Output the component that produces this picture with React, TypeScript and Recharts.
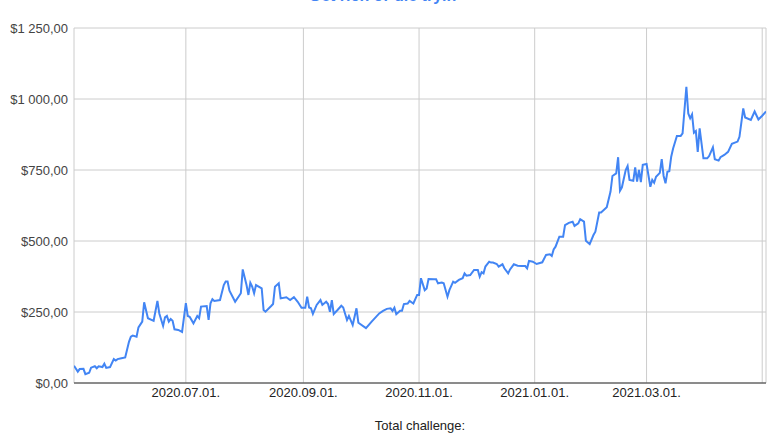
import { LineChart, Line, XAxis, YAxis, CartesianGrid } from "recharts";

const dates = [
  "2020-05-03", "2020-05-05", "2020-05-06", "2020-05-08", "2020-05-09", "2020-05-11", "2020-05-12", "2020-05-14",
  "2020-05-15", "2020-05-16", "2020-05-18", "2020-05-19", "2020-05-20", "2020-05-22", "2020-05-24", "2020-05-25",
  "2020-05-26", "2020-05-28", "2020-05-30", "2020-06-01", "2020-06-02", "2020-06-03", "2020-06-05", "2020-06-06",
  "2020-06-08", "2020-06-09", "2020-06-11", "2020-06-14", "2020-06-16", "2020-06-17", "2020-06-19", "2020-06-20",
  "2020-06-21", "2020-06-22", "2020-06-23", "2020-06-24", "2020-06-25", "2020-06-27", "2020-06-29", "2020-07-01",
  "2020-07-02", "2020-07-03", "2020-07-05", "2020-07-07", "2020-07-08", "2020-07-09", "2020-07-12", "2020-07-13",
  "2020-07-14", "2020-07-15", "2020-07-16", "2020-07-19", "2020-07-21", "2020-07-22", "2020-07-23", "2020-07-24",
  "2020-07-27", "2020-07-30", "2020-07-31", "2020-08-02", "2020-08-03", "2020-08-04", "2020-08-05", "2020-08-06",
  "2020-08-07", "2020-08-10", "2020-08-11", "2020-08-12", "2020-08-15", "2020-08-16", "2020-08-17", "2020-08-19",
  "2020-08-20", "2020-08-23", "2020-08-25", "2020-08-27", "2020-08-29", "2020-08-31", "2020-09-02", "2020-09-03",
  "2020-09-04", "2020-09-05", "2020-09-06", "2020-09-08", "2020-09-10", "2020-09-11", "2020-09-13", "2020-09-14",
  "2020-09-15", "2020-09-16", "2020-09-17", "2020-09-19", "2020-09-21", "2020-09-22", "2020-09-24", "2020-09-25",
  "2020-09-27", "2020-09-29", "2020-09-30", "2020-10-04", "2020-10-07", "2020-10-11", "2020-10-13", "2020-10-15",
  "2020-10-17", "2020-10-18", "2020-10-19", "2020-10-20", "2020-10-22", "2020-10-23", "2020-10-24", "2020-10-26",
  "2020-10-27", "2020-10-29", "2020-10-31", "2020-11-01", "2020-11-02", "2020-11-04", "2020-11-05", "2020-11-06",
  "2020-11-09", "2020-11-10", "2020-11-11", "2020-11-13", "2020-11-14", "2020-11-16", "2020-11-17", "2020-11-19",
  "2020-11-20", "2020-11-22", "2020-11-24", "2020-11-25", "2020-11-26", "2020-11-28", "2020-11-30", "2020-12-02",
  "2020-12-03", "2020-12-04", "2020-12-05", "2020-12-06", "2020-12-08", "2020-12-09", "2020-12-10", "2020-12-12",
  "2020-12-13", "2020-12-15", "2020-12-16", "2020-12-18", "2020-12-19", "2020-12-21", "2020-12-23", "2020-12-25",
  "2020-12-27", "2020-12-28", "2020-12-29", "2020-12-31", "2021-01-02", "2021-01-05", "2021-01-07", "2021-01-09",
  "2021-01-10", "2021-01-11", "2021-01-12", "2021-01-14", "2021-01-16", "2021-01-17", "2021-01-19", "2021-01-21",
  "2021-01-22", "2021-01-24", "2021-01-25", "2021-01-27", "2021-01-28", "2021-01-30", "2021-02-01", "2021-02-02",
  "2021-02-04", "2021-02-05", "2021-02-08", "2021-02-10", "2021-02-11", "2021-02-13", "2021-02-14", "2021-02-15",
  "2021-02-16", "2021-02-18", "2021-02-19", "2021-02-20", "2021-02-22", "2021-02-23", "2021-02-24", "2021-02-25",
  "2021-02-26", "2021-02-27", "2021-03-01", "2021-03-03", "2021-03-04", "2021-03-05", "2021-03-06", "2021-03-08",
  "2021-03-09", "2021-03-10", "2021-03-11", "2021-03-12", "2021-03-13", "2021-03-14", "2021-03-15", "2021-03-17",
  "2021-03-19", "2021-03-20", "2021-03-22", "2021-03-23", "2021-03-24", "2021-03-25", "2021-03-26", "2021-03-27",
  "2021-03-28", "2021-03-29", "2021-03-31", "2021-04-02", "2021-04-03", "2021-04-05", "2021-04-06", "2021-04-08",
  "2021-04-09", "2021-04-11", "2021-04-13", "2021-04-15", "2021-04-18", "2021-04-19", "2021-04-21", "2021-04-22",
  "2021-04-25", "2021-04-27", "2021-04-29", "2021-05-01", "2021-05-03",
];

const totals = [
  61, 40, 49, 50, 31, 36, 54, 59,
  52, 59, 56, 68, 53, 56, 84, 79,
  84, 87, 90, 145, 163, 167, 163, 196,
  216, 284, 228, 219, 289, 245, 201, 231,
  236, 216, 225, 219, 189, 187, 180, 281,
  236, 233, 210, 236, 228, 269, 271, 222,
  281, 295, 289, 292, 345, 357, 357, 325,
  286, 316, 400, 345, 310, 353, 339, 316,
  345, 333, 257, 251, 271, 278, 339, 351,
  298, 302, 292, 302, 286, 265, 265, 304,
  266, 263, 243, 275, 292, 275, 286, 278,
  251, 292, 243, 257, 272, 266, 222, 236,
  204, 263, 212, 193, 216, 245, 254, 261,
  263, 254, 265, 242, 254, 254, 278, 280,
  289, 280, 310, 310, 369, 327, 333, 366,
  365, 365, 351, 354, 351, 304, 327, 357,
  353, 363, 369, 386, 378, 380, 398, 398,
  374, 390, 386, 410, 427, 424, 424, 419,
  410, 418, 404, 386, 400, 418, 413, 412,
  412, 404, 430, 427, 419, 425, 451, 453,
  447, 470, 480, 515, 515, 556, 564, 568,
  553, 562, 577, 568, 501, 489, 521, 533,
  600, 600, 619, 674, 729, 738, 795, 677,
  689, 750, 764, 715, 712, 759, 709, 750,
  707, 768, 771, 691, 715, 705, 726, 740,
  788, 729, 703, 744, 746, 797, 826, 870,
  870, 879, 1043, 949, 932, 946, 881, 887,
  814, 897, 791, 791, 799, 830, 788, 783,
  795, 803, 814, 842, 850, 867, 967, 935,
  926, 956, 928, 941, 956,
];

const xTicks = ["2020-07-01", "2020-09-01", "2020-11-01", "2021-01-01", "2021-03-01", "2021-05-01"];
const labeledTicks = ["2020-07-01", "2020-09-01", "2020-11-01", "2021-01-01", "2021-03-01"];
const yTicks = [0, 250, 500, 750, 1000, 1250];

const toTime = (s: string) => {
  const [y, m, d] = s.split("-").map(Number);
  return Date.UTC(y, m - 1, d);
};

const data = dates.map((d, i) => ({ t: toTime(d), total: totals[i] }));

const formatDate = (v: number) => {
  const d = new Date(v);
  const iso = d.toISOString().slice(0, 10);
  if (!labeledTicks.includes(iso)) return "";
  return iso.replace(/-/g, ".") + ".";
};

const formatMoney = (v: number) => {
  const [int, dec] = v.toFixed(2).split(".");
  const grouped = int.replace(/\B(?=(\d{3})+(?!\d))/g, " ");
  return `$${grouped},${dec}`;
};

const font = "Arial, 'Liberation Sans', sans-serif";

export default function App() {
  return (
    <div style={{ position: "absolute", left: 0, top: 0, width: 773, height: 445, background: "#fff", fontFamily: font }}>
      <div
        style={{
          position: "absolute",
          left: 0,
          width: 773,
          top: -14,
          textAlign: "center",
          paddingLeft: 0,
          color: "#4285f4",
          fontSize: 16,
          fontWeight: "bold",
          lineHeight: "20px",
          transform: "translateX(-4px)",
        }}
      >
        Get rich or die tryin
      </div>
      <LineChart width={773} height={445} data={data} margin={{ top: 28, right: 7, bottom: 0, left: 0 }}>
        <CartesianGrid stroke="#cccccc" strokeWidth={1} />
        <XAxis
          dataKey="t"
          type="number"
          scale="time"
          domain={[toTime("2020-05-03"), toTime("2021-05-03")]}
          ticks={xTicks.map(toTime)}
          tickFormatter={formatDate}
          height={62}
          axisLine={{ stroke: "#333333", strokeWidth: 1 }}
          tickLine={false}
          tickSize={5}
          tickMargin={0}
          tick={{ fontSize: 13, fill: "#222222", fontFamily: font }}
          interval={0}
          allowDataOverflow
          label={{ value: "Total challenge:", position: "insideBottom", offset: 15, fontSize: 13, fill: "#222222", fontFamily: font }}
        />
        <YAxis
          type="number"
          domain={[0, 1250]}
          ticks={yTicks}
          tickFormatter={formatMoney}
          width={74}
          axisLine={false}
          tickLine={false}
          tickSize={6}
          tickMargin={0}
          interval={0}
          tick={{ fontSize: 13, fill: "#444444", fontFamily: font }}
        />
        <Line
          type="linear"
          dataKey="total"
          stroke="#4285f4"
          strokeWidth={2}
          dot={false}
          activeDot={false}
          isAnimationActive={false}
        />
      </LineChart>
    </div>
  );
}
